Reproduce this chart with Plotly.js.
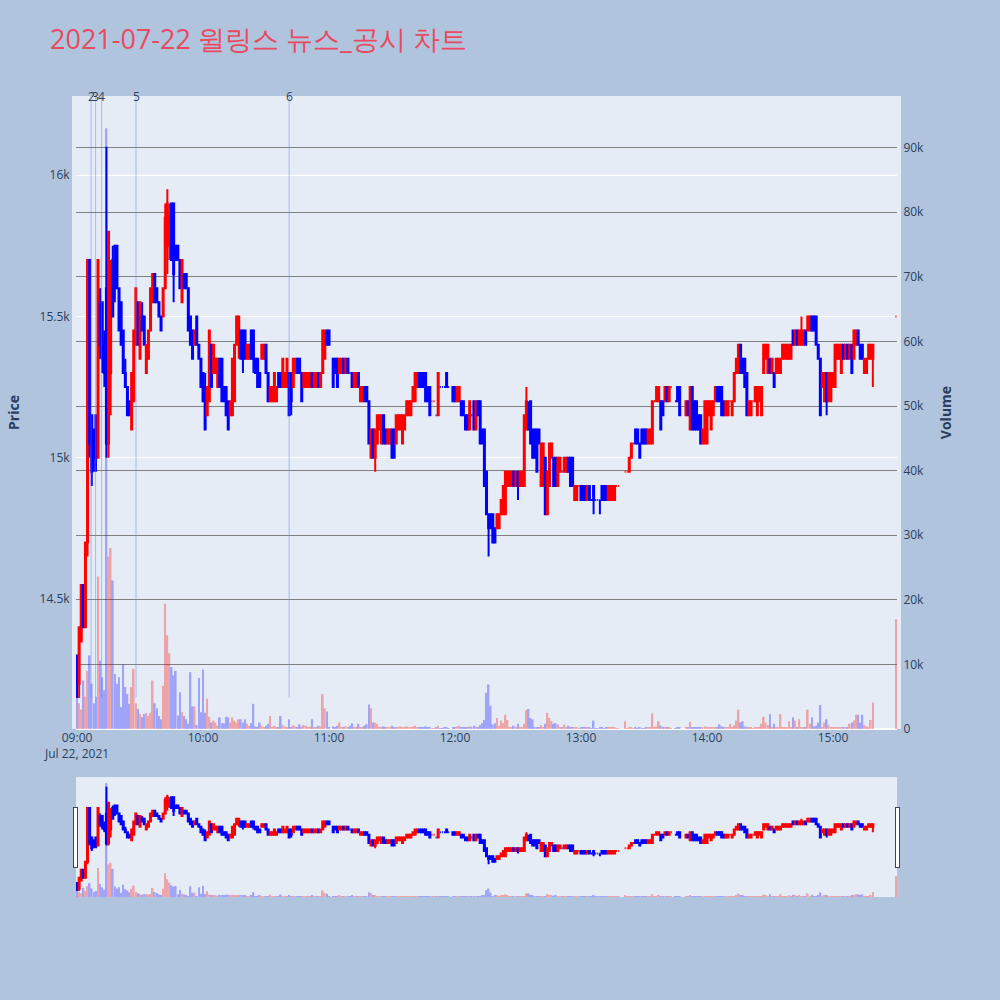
<!DOCTYPE html>
<html>
<head>
<meta charset="utf-8">
<script src="https://cdn.plot.ly/plotly-3.0.1.min.js"></script>
<style>html,body{margin:0;padding:0;background:#B0C4DE;}</style>
</head>
<body>
<div id="chart" style="width:1000px;height:1000px;"></div>
<script>
// 1-minute bars, 2021-07-22
const tradeDate = '2021-07-22';

const times9 = ['09:00','09:01','09:02','09:03','09:04','09:05','09:06','09:07','09:08','09:09',
'09:10','09:11','09:12','09:13','09:14','09:15','09:16','09:17','09:18','09:19',
'09:20','09:21','09:22','09:23','09:24','09:25','09:26','09:27','09:28','09:29',
'09:30','09:31','09:32','09:33','09:34','09:35','09:36','09:37','09:38','09:39',
'09:40','09:41','09:42','09:43','09:44','09:45','09:46','09:47','09:48','09:49',
'09:50','09:51','09:52','09:53','09:54','09:55','09:56','09:57','09:58','09:59'];
const open9 = [14300,14200,14350,14550,14400,14700,15700,15150,15100,15150,
15000,15550,15550,15400,15600,15050,15300,15700,15750,15750,
15600,15550,15450,15300,15250,15200,15100,15200,15400,15550,
15350,15500,15500,15300,15350,15450,15550,15650,15600,15550,
15500,15500,15600,15750,15750,15900,15900,15750,15750,15700,
15550,15650,15650,15600,15500,15450,15400,15500,15400,15350];
const high9 = [14300,14400,14550,14550,14700,15700,15700,15150,15100,15150,
15700,15600,15550,15450,16100,15800,15700,15750,15750,15750,
15600,15550,15450,15350,15250,15200,15300,15450,15600,15550,
15550,15550,15500,15400,15450,15600,15650,15650,15600,15550,
15500,15600,15900,15950,15900,15900,15900,15750,15750,15700,
15700,15650,15650,15600,15500,15450,15450,15500,15400,15350];
const low9 = [14150,14150,14350,14400,14400,14650,15000,14900,14950,14950,
15000,15350,15300,15250,15000,15000,15150,15500,15550,15600,
15450,15400,15300,15250,15150,15150,15100,15200,15400,15400,
15350,15450,15400,15300,15350,15450,15550,15550,15550,15500,
15450,15500,15600,15650,15700,15700,15550,15700,15700,15600,
15550,15600,15600,15450,15400,15350,15400,15400,15350,15250];
const close9 = [14200,14400,14550,14400,14700,15700,15050,14950,15000,15000,
15700,15400,15350,15300,15050,15800,15650,15500,15600,15600,
15450,15400,15300,15250,15150,15150,15300,15450,15600,15400,
15550,15450,15400,15400,15450,15600,15650,15550,15550,15500,
15450,15600,15850,15900,15850,15700,15650,15700,15700,15600,
15700,15600,15600,15450,15400,15350,15450,15400,15350,15250];
const vol9 = [6000,4000,3000,7500,5000,9000,11400,7000,4000,5000,
23600,10600,8000,6000,93000,26700,28000,23000,8500,7000,
8000,3400,10000,6500,5400,3900,6500,9300,4000,3100,
2300,1800,2300,2500,2000,2500,7500,4000,3200,2000,
1500,6700,19400,14500,11700,9600,8300,9000,2100,5700,
2600,2000,1500,800,8800,3500,3500,600,7900,2600];

const times10 = ['10:00','10:01','10:02','10:03','10:04','10:05','10:06','10:07','10:08','10:09',
'10:10','10:11','10:12','10:13','10:14','10:15','10:16','10:17','10:18','10:19',
'10:20','10:21','10:22','10:23','10:24','10:25','10:26','10:27','10:28','10:29',
'10:30','10:31','10:32','10:33','10:34','10:35','10:36','10:37','10:38','10:39',
'10:40','10:41','10:42','10:43','10:44','10:45','10:46','10:47','10:48','10:49',
'10:50','10:51','10:52','10:53','10:54','10:55','10:56','10:57','10:58','10:59'];
const open10 = [15300,15250,15150,15200,15400,15300,15300,15250,15350,15350,
15250,15250,15200,15150,15150,15200,15400,15400,15450,15450,
15450,15350,15350,15450,15450,15350,15350,15300,15350,15350,
15400,15300,15200,15200,15200,15200,15300,15300,15250,15250,
15250,15300,15300,15250,15300,15350,15350,15300,15250,15250,
15250,15250,15300,15250,15250,15300,15250,15300,15350,15450];
const high10 = [15300,15300,15250,15450,15400,15400,15350,15350,15350,15350,
15250,15250,15200,15200,15350,15400,15500,15500,15450,15450,
15450,15400,15400,15450,15450,15350,15350,15300,15400,15400,
15400,15300,15250,15250,15300,15250,15300,15300,15350,15300,
15350,15300,15300,15350,15350,15350,15350,15300,15300,15300,
15300,15300,15300,15300,15300,15300,15300,15450,15450,15450];
const low10 = [15200,15100,15150,15200,15250,15300,15300,15250,15250,15200,
15200,15150,15100,15150,15150,15200,15400,15350,15350,15300,
15350,15350,15350,15350,15300,15300,15250,15250,15350,15350,
15300,15200,15200,15200,15200,15200,15250,15250,15250,15250,
15250,15150,15150,15250,15300,15300,15300,15200,15250,15250,
15250,15250,15250,15250,15250,15250,15250,15300,15350,15400];
const close10 = [15200,15100,15250,15450,15250,15400,15350,15350,15250,15200,
15200,15150,15100,15200,15350,15400,15500,15500,15350,15350,
15350,15400,15400,15350,15350,15300,15250,15250,15400,15400,
15300,15200,15250,15250,15300,15250,15250,15250,15350,15300,
15350,15150,15200,15350,15350,15300,15300,15200,15300,15300,
15300,15300,15250,15300,15300,15250,15300,15450,15450,15400];
const vol10 = [9200,2500,4700,1900,1000,1300,1000,500,1800,900,
900,1900,1800,1000,1800,1300,1000,1500,1500,1000,
1500,800,500,900,3900,400,300,1000,500,300,
500,800,2000,300,500,300,300,2000,600,400,
300,1500,300,600,400,300,700,300,600,500,
300,400,1500,300,200,500,400,5400,3200,2700];

const times11 = ['11:00','11:02','11:03','11:04','11:05','11:06','11:07','11:08','11:09',
'11:10','11:11','11:12','11:13','11:14','11:15','11:16','11:17','11:18','11:19',
'11:20','11:21','11:22','11:23','11:24','11:25','11:26','11:27','11:28','11:29',
'11:30','11:31','11:32','11:33','11:34','11:35','11:36','11:37','11:38','11:39',
'11:40','11:41','11:42','11:43','11:44','11:45','11:46','11:47','11:48','11:49',
'11:50','11:51','11:52','11:53','11:54','11:55','11:56','11:57','11:59'];
const open11 = [15450,15350,15350,15350,15300,15300,15350,15300,15350,
15300,15300,15250,15250,15300,15200,15200,15250,15250,15200,
15000,15100,15000,15050,15100,15050,15150,15100,15050,15050,
15100,15100,15050,15100,15100,15050,15100,15150,15150,15150,
15200,15200,15250,15300,15300,15300,15300,15250,15250,15200,
15200,15150,15150,15250,15250,15250,15300,15250,15250];
const high11 = [15450,15350,15350,15350,15350,15350,15350,15350,15350,
15300,15300,15300,15300,15300,15250,15250,15250,15250,15200,
15100,15100,15100,15150,15150,15150,15150,15100,15100,15100,
15100,15100,15150,15150,15150,15150,15150,15200,15200,15200,
15250,15300,15300,15300,15300,15300,15300,15250,15250,15200,
15200,15150,15300,15250,15250,15250,15300,15250,15250];
const low11 = [15400,15250,15300,15250,15300,15300,15300,15300,15300,
15300,15250,15250,15250,15250,15200,15200,15200,15200,15050,
15000,15000,14950,15050,15100,15050,15050,15050,15050,15050,
15000,15000,15050,15100,15100,15050,15100,15150,15150,15150,
15200,15200,15250,15250,15250,15250,15200,15200,15150,15200,
15200,15150,15150,15250,15250,15250,15250,15250,15200];
const close11 = [15400,15250,15300,15250,15350,15350,15300,15350,15300,
15300,15250,15300,15300,15250,15250,15250,15200,15200,15050,
15100,15000,15100,15150,15150,15150,15050,15050,15100,15100,
15000,15000,15150,15150,15150,15150,15150,15200,15200,15200,
15250,15300,15300,15250,15250,15250,15200,15200,15150,15200,
15200,15150,15300,15250,15250,15250,15250,15250,15200];
const vol11 = [300,400,300,500,1000,300,300,400,300,
500,900,300,300,800,300,200,500,700,3800,
3200,1000,1000,800,300,200,400,300,300,200,
500,300,300,300,400,300,200,400,300,300,
400,500,200,300,300,200,400,300,300,100,
100,200,500,100,100,200,300,100,300];

const times12 = ['12:00','12:01','12:02','12:03','12:04','12:05','12:06','12:07','12:08','12:09',
'12:10','12:11','12:12','12:13','12:14','12:15','12:16','12:17','12:18','12:19',
'12:20','12:21','12:22','12:23','12:24','12:25','12:26','12:27','12:28','12:29',
'12:30','12:31','12:32','12:33','12:34','12:35','12:36','12:37','12:38','12:39',
'12:40','12:41','12:42','12:43','12:44','12:45','12:46','12:47','12:48','12:49',
'12:50','12:51','12:52','12:53','12:54','12:55','12:56','12:57','12:58','12:59'];
const open12 = [15250,15200,15200,15200,15200,15150,15150,15100,15150,15200,
15100,15200,15200,15100,15100,14950,14800,14800,14800,14750,
14750,14750,14800,14800,14800,14900,14900,14900,14950,14900,
14950,14900,14900,14900,15100,15150,15200,15100,15100,15100,
15100,14900,14900,15000,14800,14900,15000,15000,15000,14900,
14950,14950,14950,14950,15000,15000,15000,14850,14850,14900];
const high12 = [15250,15250,15250,15200,15200,15150,15150,15200,15150,15200,
15200,15200,15200,15100,15100,14950,14800,14800,14800,14750,
14800,14800,14850,14900,14950,14950,14950,14950,14950,14950,
14950,14950,14950,15150,15250,15200,15200,15100,15100,15100,
15100,15050,15050,15000,14950,15050,15050,15000,15000,15000,
15000,14950,15000,15000,15000,15000,15000,14900,14900,14900];
const low12 = [15200,15200,15200,15150,15150,15100,15100,15100,15150,15100,
15100,15150,15050,15050,14900,14800,14650,14750,14700,14700,
14750,14750,14800,14800,14800,14900,14900,14900,14900,14900,
14850,14900,14900,14900,15100,15100,15050,15000,15000,14950,
15050,14900,14900,14800,14800,14900,15000,14900,14900,14900,
14950,14950,14950,14950,14950,14900,14900,14850,14850,14900];
const close12 = [15200,15250,15250,15150,15150,15100,15100,15200,15150,15100,
15200,15150,15050,15050,14900,14800,14750,14750,14700,14700,
14800,14800,14850,14900,14950,14950,14950,14950,14900,14950,
14900,14950,14950,15150,15200,15100,15050,15000,15000,14950,
15050,15050,15050,14800,14950,15050,15050,14900,14900,15000,
15000,14950,15000,15000,14950,14900,14900,14900,14900,14900];
const vol12 = [300,400,500,300,300,200,300,400,200,500,
400,300,600,900,1400,5600,6900,3600,700,900,
1700,500,1300,900,2200,1400,200,300,500,300,
800,300,200,800,2900,3100,1700,1500,300,200,
200,600,300,800,2500,1700,1200,800,900,700,
300,200,700,300,500,200,300,300,200,100];

const times13 = ['13:00','13:01','13:02','13:03','13:04','13:05','13:06','13:07','13:08','13:09',
'13:10','13:11','13:12','13:13','13:14','13:15','13:16','13:17','13:18',
'13:21','13:22','13:23','13:24','13:25','13:26','13:27','13:28','13:29','13:30',
'13:31','13:32','13:33','13:34','13:35','13:36','13:37','13:38','13:39','13:40',
'13:41','13:42','13:43','13:45','13:46','13:47',
'13:50','13:51','13:52','13:53','13:54','13:55','13:56','13:57','13:58','13:59'];
const open13 = [14900,14900,14900,14850,14900,14850,14900,14850,14850,14850,
14900,14900,14900,14850,14850,14850,14850,14900,14900,
14950,14950,14950,15000,15050,15100,15100,15050,15100,15100,
15100,15050,15050,15050,15200,15200,15200,15200,15200,15200,
15250,15200,15250,15200,15250,15250,
15150,15200,15100,15250,15200,15200,15150,15150,15050,15050];
const high13 = [14900,14900,14900,14900,14900,14850,14900,14850,14850,14850,
14900,14900,14900,14900,14900,14900,14900,14900,14900,
14950,14950,15000,15050,15050,15100,15100,15050,15100,15100,
15100,15100,15100,15200,15200,15250,15250,15200,15200,15250,
15250,15250,15250,15200,15250,15250,
15200,15200,15250,15250,15200,15200,15150,15150,15100,15200];
const low13 = [14850,14850,14850,14850,14850,14850,14800,14850,14850,14800,
14850,14850,14850,14850,14850,14850,14850,14900,14900,
14950,14950,14950,15000,15050,15050,15050,15000,15050,15050,
15050,15050,15050,15050,15200,15200,15200,15100,15150,15200,
15200,15200,15250,15200,15200,15150,
15150,15150,15100,15100,15100,15100,15100,15050,15050,15050];
const close13 = [14850,14850,14850,14900,14850,14850,14850,14850,14850,14850,
14850,14850,14850,14900,14900,14900,14900,14900,14900,
14950,14950,15000,15050,15050,15050,15050,15000,15050,15050,
15050,15100,15100,15200,15200,15250,15250,15100,15150,15250,
15200,15250,15250,15200,15200,15150,
15200,15150,15250,15100,15100,15100,15100,15050,15100,15200];
const vol13 = [300,300,200,200,300,100,1300,100,100,200,
200,100,200,300,200,300,200,100,100,
1200,100,200,300,100,200,100,200,100,100,
200,300,200,2400,200,400,1200,500,300,200,
200,200,100,100,200,300,
200,200,1100,300,300,200,200,300,200,400];

const times14 = ['14:00','14:01','14:02','14:03','14:04','14:05','14:06','14:07','14:08','14:09',
'14:10','14:11','14:12','14:13','14:14','14:15','14:16','14:17','14:18','14:19',
'14:20','14:21','14:22','14:23','14:24','14:25','14:26','14:27','14:28','14:29',
'14:30','14:31','14:32','14:33','14:34','14:35','14:36','14:37','14:38','14:39',
'14:40','14:41','14:42','14:43','14:44','14:45','14:46','14:47','14:48','14:49',
'14:50','14:51','14:52','14:53','14:54','14:55','14:56','14:57','14:58','14:59'];
const open14 = [15050,15150,15100,15150,15200,15250,15250,15250,15200,15150,
15150,15200,15150,15200,15300,15300,15400,15350,15350,15300,
15150,15150,15200,15200,15150,15200,15150,15300,15350,15300,
15350,15300,15300,15300,15300,15300,15350,15350,15350,15350,
15350,15450,15400,15450,15400,15400,15400,15450,15450,15450,
15500,15500,15500,15400,15350,15250,15200,15300,15200,15200];
const high14 = [15200,15200,15200,15200,15250,15250,15250,15250,15200,15200,
15200,15200,15200,15300,15350,15400,15400,15350,15350,15300,
15200,15200,15200,15250,15250,15250,15250,15400,15400,15400,
15350,15350,15300,15350,15350,15350,15400,15400,15400,15400,
15400,15450,15450,15450,15450,15500,15450,15450,15500,15500,
15500,15500,15500,15400,15350,15300,15300,15300,15300,15300];
const low14 = [15050,15150,15100,15150,15200,15200,15200,15150,15150,15150,
15150,15200,15150,15200,15300,15300,15300,15300,15250,15150,
15150,15150,15200,15200,15150,15200,15150,15300,15350,15300,
15300,15300,15250,15300,15300,15300,15350,15350,15350,15350,
15350,15400,15400,15400,15400,15400,15400,15400,15450,15450,
15450,15450,15400,15350,15150,15250,15200,15150,15200,15200];
const close14 = [15200,15200,15200,15200,15250,15200,15200,15150,15150,15200,
15200,15200,15200,15300,15350,15400,15300,15300,15250,15150,
15200,15200,15200,15250,15250,15250,15250,15400,15400,15400,
15300,15350,15250,15350,15350,15350,15400,15400,15400,15400,
15400,15400,15450,15400,15450,15450,15450,15400,15500,15500,
15450,15450,15400,15350,15150,15300,15300,15200,15300,15300];
const vol14 = [300,200,300,200,300,300,700,400,300,200,
300,800,300,600,1300,3000,1000,1200,400,300,
200,300,100,300,200,300,800,1900,1000,600,
2300,200,800,200,300,2300,300,200,200,1200,
300,1800,1300,300,1500,300,200,300,3000,800,
1800,400,500,1000,3700,300,1000,1500,600,200];

const times15 = ['15:00','15:01','15:02','15:03','15:04','15:05','15:06','15:07','15:08','15:09',
'15:10','15:11','15:12','15:13','15:14','15:15','15:16','15:17','15:18','15:19','15:30'];
const open15 = [15250,15250,15350,15350,15300,15400,15350,15400,15350,15400,
15350,15400,15450,15400,15400,15300,15300,15350,15350,15350,15500];
const high15 = [15300,15400,15400,15400,15400,15400,15400,15400,15400,15400,
15450,15450,15450,15400,15400,15350,15350,15400,15400,15400,15500];
const low15 = [15250,15250,15350,15350,15300,15350,15350,15350,15350,15300,
15350,15400,15400,15350,15350,15300,15300,15350,15350,15250,15500];
const close15 = [15300,15400,15400,15400,15400,15350,15400,15350,15400,15300,
15450,15450,15400,15350,15350,15350,15350,15400,15400,15400,15500];
const vol15 = [300,200,300,300,200,300,200,300,800,1000,
1300,2200,2200,1000,2200,600,400,300,1400,4100,17000];

// news / disclosure markers
const eventTimes = ['09:06:40','09:08:50','09:11:40','09:28:05','10:41:00'];
const eventLabels = ['2','3','4','5','6'];

const times = [].concat(times9, times10, times11, times12, times13, times14, times15);
const opens = [].concat(open9, open10, open11, open12, open13, open14, open15);
const highs = [].concat(high9, high10, high11, high12, high13, high14, high15);
const lows = [].concat(low9, low10, low11, low12, low13, low14, low15);
const closes = [].concat(close9, close10, close11, close12, close13, close14, close15);
const volumes = [].concat(vol9, vol10, vol11, vol12, vol13, vol14, vol15);

const x = times.map(t => tradeDate + ' ' + t);

// volume colour follows the candle direction (same rule as the candlestick trace)
const volColors = [];
let up = true, prevClose = null;
for (let i = 0; i < x.length; i++) {
  const o = opens[i], c = closes[i];
  if (c > o) up = true;
  else if (c < o) up = false;
  else if (prevClose !== null && c !== prevClose) up = c > prevClose;
  prevClose = c;
  volColors.push(up ? 'red' : 'blue');
}

const candles = {
  type: 'candlestick',
  x: x, open: opens, high: highs, low: lows, close: closes,
  increasing: {line: {color: 'red'}, fillcolor: 'red'},
  decreasing: {line: {color: 'blue'}, fillcolor: 'blue'},
  yaxis: 'y',
  name: 'Price'
};

const volumeBars = {
  type: 'bar',
  x: x, y: volumes,
  marker: {color: volColors},
  opacity: 0.3,
  yaxis: 'y2',
  name: 'Volume'
};

const priceMin = Math.min.apply(null, lows);
const yRange = [14040, 16280];

const shapes = eventTimes.map(t => ({
  type: 'line', xref: 'x', yref: 'y',
  x0: tradeDate + ' ' + t, x1: tradeDate + ' ' + t,
  y0: priceMin, y1: yRange[1],
  line: {color: 'rgba(90,125,235,0.45)', width: 1}
}));

const annotations = eventTimes.map((t, i) => ({
  x: tradeDate + ' ' + t, y: 1, xref: 'x', yref: 'paper',
  text: eventLabels[i], showarrow: false, yanchor: 'middle',
  font: {size: 12, color: '#2a3f5f'}
}));

const layout = {
  width: 1000, height: 1000,
  paper_bgcolor: '#B0C4DE',
  plot_bgcolor: '#E5ECF6',
  font: {family: '"Open Sans", verdana, arial, sans-serif', size: 12, color: '#2a3f5f'},
  title: {
    text: '2021-07-22 윌링스 뉴스_공시 차트',
    x: 0.05, xanchor: 'left', y: 0.96, yanchor: 'middle',
    font: {size: 27, color: '#E84A5F'}
  },
  margin: {l: 76, r: 103, t: 96, b: 103},
  showlegend: false,
  xaxis: {
    type: 'date',
    range: [tradeDate + ' 08:59:30', tradeDate + ' 15:30:30'],
    showgrid: false, zeroline: false, ticks: '',
    rangeslider: {visible: true, thickness: 0.15, bgcolor: '#E5ECF6'}
  },
  yaxis: {
    title: {text: 'Price', font: {size: 14, weight: 'bold'}, standoff: 18},
    automargin: true,
    range: yRange, gridcolor: 'white', zeroline: false, ticks: '',
    showline: true, linecolor: '#E5ECF6', linewidth: 4
  },
  yaxis2: {
    title: {text: 'Volume', font: {size: 14, weight: 'bold'}, standoff: 19},
    automargin: true,
    overlaying: 'y', side: 'right', range: [0, 98000],
    showgrid: true, gridcolor: 'gray', zeroline: true, zerolinecolor: 'white', zerolinewidth: 2,
    ticks: '', showline: true, linecolor: '#E5ECF6', linewidth: 4
  },
  shapes: shapes,
  annotations: annotations
};

Plotly.newPlot('chart', [candles, volumeBars], layout, {displayModeBar: false});
</script>
</body>
</html>
